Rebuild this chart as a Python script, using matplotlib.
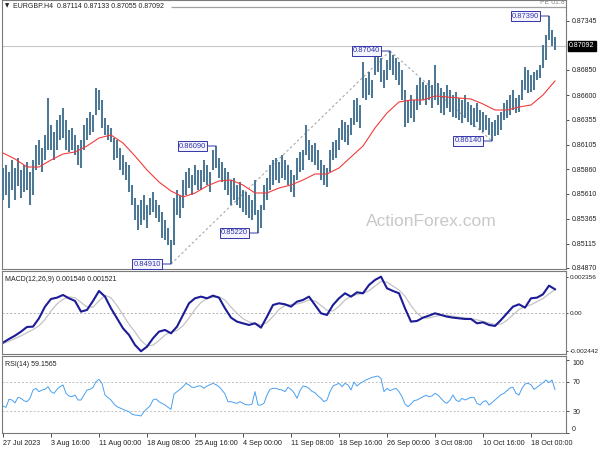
import numpy as np
import matplotlib
matplotlib.use("Agg")
import matplotlib.pyplot as plt

plt.rcParams['font.family'] = ['Liberation Sans', 'DejaVu Sans']

# ---------------- data ----------------
title_main = "EURGBP.H4  0.87114 0.87133 0.87055 0.87092"
title_macd = "MACD(12,26,9) 0.001546 0.001521"
title_rsi = "RSI(14) 59.1565"
last_price = 0.87092
fe_level = 0.87477
fe_label = "FE 61.8"
watermark = "ActionForex.com"

bar_high = [
    .8587, .8590, .8583, .8595, .8587, .8597, .8585, .8590, .8593, .8583,
    .8595, .8610, .8615, .8607, .8620, .8657, .8630, .8623, .8635, .8640,
    .8647, .8635, .8625, .8627, .8620, .8610, .8615, .8630, .8637, .8643,
    .8640, .8667, .8665, .8655, .8637, .8630, .8627, .8617, .8615, .8607,
    .8600, .8593, .8590, .8570, .8557, .8550, .8555, .8560, .8550, .8557,
    .8563, .8555, .8550, .8543, .8535, .8527, .8515, .8557, .8565, .8560,
    .8575, .8583, .8587, .8580, .8590, .8585, .8585, .8595, .8590, .8583,
    .8605, .8609, .8597, .8593, .8587, .8583, .8575, .8577, .8570, .8573,
    .8565, .8563, .8560, .8555, .8575, .8545, .8550, .8570, .8577, .8590,
    .8595, .8597, .8593, .8600, .8595, .8590, .8585, .8580, .8597, .8603,
    .8605, .8630, .8615, .8610, .8612, .8605, .8595, .8590, .8587, .8605,
    .8613, .8615, .8627, .8635, .8633, .8630, .8637, .8655, .8657, .8650,
    .8693, .8677, .8683, .8675, .8699, .8702, .8697, .8685, .8695, .8704,
    .8700, .8697, .8693, .8685, .8665, .8655, .8660, .8655, .8670, .8677,
    .8673, .8670, .8675, .8670, .8690, .8672, .8667, .8663, .8670, .8665,
    .8660, .8663, .8657, .8655, .8660, .8653, .8650, .8647, .8652, .8645,
    .8643, .8640, .8637, .8633, .8635, .8640, .8643, .8652, .8655, .8660,
    .8665, .8657, .8660, .8675, .8688, .8685, .8680, .8683, .8685, .8690,
    .8710, .8720, .8739, .8725, .8718]

bar_low = [
    .8555, .8560, .8547, .8565, .8555, .8569, .8557, .8563, .8565, .8550,
    .8560, .8585, .8590, .8583, .8595, .8605, .8605, .8595, .8605, .8615,
    .8617, .8605, .8603, .8605, .8600, .8590, .8587, .8605, .8615, .8620,
    .8623, .8640, .8645, .8627, .8620, .8615, .8613, .8595, .8597, .8585,
    .8580, .8575, .8563, .8550, .8535, .8525, .8530, .8535, .8527, .8540,
    .8543, .8537, .8533, .8517, .8515, .8510, .8491, .8510, .8540, .8537,
    .8547, .8560, .8567, .8560, .8570, .8565, .8565, .8573, .8570, .8563,
    .8585, .8587, .8577, .8573, .8565, .8560, .8550, .8555, .8550, .8547,
    .8543, .8540, .8537, .8535, .8540, .8522, .8527, .8545, .8555, .8565,
    .8570, .8575, .8572, .8577, .8575, .8570, .8563, .8558, .8575, .8583,
    .8585, .8600, .8595, .8593, .8590, .8585, .8575, .8570, .8568, .8583,
    .8595, .8597, .8605, .8615, .8613, .8610, .8620, .8630, .8633, .8627,
    .8657, .8655, .8660, .8657, .8680, .8683, .8673, .8667, .8675, .8685,
    .8680, .8675, .8670, .8655, .8628, .8632, .8637, .8633, .8645, .8650,
    .8655, .8650, .8655, .8647, .8655, .8650, .8642, .8640, .8647, .8643,
    .8638, .8637, .8635, .8632, .8637, .8633, .8630, .8628, .8633, .8625,
    .8623, .8625, .8620, .8614, .8619, .8620, .8625, .8635, .8637, .8640,
    .8645, .8642, .8643, .8655, .8665, .8662, .8663, .8665, .8675, .8677,
    .8687, .8695, .8715, .8709, .8705]

# moving average, one value every 4 bars
ma_values = [
    .8602, .8596, .8588, .8588, .8595, .8601, .8603, .8609, .8617, .8620,
    .8612, .8599, .8585, .8573, .8564, .8558, .8562, .8569, .8574, .8575,
    .8570, .8562, .8562, .8567, .8570, .8575, .8581, .8581, .8587, .8598,
    .8609, .8627, .8642, .8653, .8655, .8655, .8659, .8658, .8657, .8656,
    .8651, .8645, .8645, .8648, .8650, .8660, .8674]

# MACD main and signal, one value every 2 bars
macd_main = [
    -0.001888, -0.001652, -0.001437, -0.001180, -0.000879, -0.000858, -0.000322,
    0.000429, 0.000922, 0.001008, 0.001180, 0.000965, 0.000794, 0.000107,
    0.000215, 0.000794, 0.001437, 0.001073, 0.000322, -0.000322, -0.000965,
    -0.001394, -0.002038, -0.002442, -0.002145, -0.001609, -0.001180, -0.001073,
    -0.001287, -0.000858, -0.000107, 0.000644, 0.000965, 0.001073, 0.000965,
    0.001137, 0.001008, 0.000322, -0.000279, -0.000536, -0.000644, -0.000751,
    -0.000644, -0.000922, -0.000215, 0.000536, 0.000644, 0.000579, 0.000429,
    0.000751, 0.000858, 0.001073, 0.000536, 0.000000, -0.000107, 0.000536,
    0.000965, 0.001287, 0.001073, 0.001351, 0.001287, 0.001823, 0.002145,
    0.002356, 0.001609, 0.001437, 0.001287, 0.000322, -0.000536, -0.000493,
    -0.000279, -0.000150, 0.000000, -0.000107, -0.000215, -0.000279, -0.000322,
    -0.000365, -0.000365, -0.000644, -0.000579, -0.000751, -0.000815, -0.000429,
    0.000000, 0.000429, 0.000579, 0.000365, 0.000965, 0.001008, 0.001223,
    0.001780, 0.001546]

macd_signal = [
    -0.001950, -0.001800, -0.001620, -0.001450, -0.001250, -0.001050, -0.000800,
    -0.000400, 0.000150, 0.000600, 0.000900, 0.001050, 0.001000, 0.000700,
    0.000400, 0.000400, 0.000800, 0.001150, 0.001000, 0.000500, -0.000100,
    -0.000700, -0.001200, -0.001750, -0.002100, -0.002050, -0.001750, -0.001400,
    -0.001200, -0.001100, -0.000800, -0.000300, 0.000250, 0.000700, 0.000950,
    0.001030, 0.001050, 0.000850, 0.000400, 0.000000, -0.000350, -0.000550,
    -0.000650, -0.000750, -0.000600, -0.000200, 0.000250, 0.000500, 0.000560,
    0.000600, 0.000700, 0.000850, 0.000800, 0.000500, 0.000200, 0.000150,
    0.000450, 0.000850, 0.001100, 0.001200, 0.001280, 0.001450, 0.001750,
    0.002050, 0.002000, 0.001750, 0.001500, 0.001100, 0.000500, 0.000000,
    -0.000300, -0.000300, -0.000200, -0.000130, -0.000120, -0.000180, -0.000250,
    -0.000300, -0.000340, -0.000420, -0.000520, -0.000620, -0.000720, -0.000700,
    -0.000450, -0.000100, 0.000250, 0.000420, 0.000550, 0.000750, 0.000950,
    0.001250, 0.001521]

# RSI, one value per bar
rsi_values = [
    36.8, 35.0, 46.0, 45.0, 41.0, 48.6, 47.3, 44.0, 42.7, 47.3,
    58.6, 60.9, 56.4, 58.6, 59.5, 63.2, 56.4, 54.1, 59.5, 63.2,
    65.5, 54.1, 50.5, 49.5, 51.8, 45.0, 45.0, 51.8, 58.6, 59.5,
    62.3, 70.0, 73.2, 67.7, 51.8, 48.2, 45.0, 39.5, 35.9, 34.1,
    32.3, 30.5, 29.1, 25.5, 24.5, 24.1, 23.2, 29.1, 33.2, 36.8,
    45.0, 46.4, 42.7, 40.5, 38.2, 35.0, 32.3, 53.2, 56.4, 59.5,
    63.2, 67.7, 65.5, 62.3, 62.3, 64.1, 64.1, 60.9, 64.1, 65.9,
    67.7, 65.9, 63.2, 58.6, 53.2, 42.7, 42.7, 41.4, 40.5, 42.7,
    40.5, 38.6, 38.2, 39.5, 56.4, 38.2, 38.2, 40.5, 51.8, 59.5,
    60.9, 60.9, 59.5, 58.6, 56.4, 62.3, 59.5, 55.0, 47.3, 57.7,
    64.1, 63.2, 60.9, 56.8, 55.0, 50.5, 47.3, 42.7, 45.0, 56.4,
    64.1, 65.9, 67.7, 63.2, 67.7, 65.5, 58.6, 69.5, 64.1, 67.7,
    70.0, 72.3, 74.1, 75.9, 76.8, 77.7, 74.5, 56.4, 60.9, 57.7,
    59.5, 60.9, 56.4, 49.5, 39.5, 35.9, 39.5, 44.1, 45.0, 47.3,
    49.5, 51.4, 49.5, 50.5, 54.1, 51.8, 47.3, 42.7, 40.5, 45.0,
    51.8, 45.0, 42.7, 47.3, 45.0, 46.8, 48.6, 48.6, 40.5, 38.2,
    42.7, 44.1, 38.2, 41.4, 45.0, 48.6, 52.3, 54.1, 57.7, 61.4,
    62.3, 54.1, 51.8, 60.9, 66.8, 67.7, 65.9, 59.5, 62.3, 65.5,
    68.6, 72.3, 68.6, 72.3, 59.16]

# swing points marked with price boxes (bar index, 'high'/'low')
swing_points = [(56, 'low'), (71, 'high'), (85, 'low'), (129, 'high'),
                (163, 'low'), (182, 'high')]
# dotted trend lines between swing points
trend_pairs = [(0, 3), (3, 4)]

price_ticks = [0.87345, 0.86850, 0.86600, 0.86355, 0.86105,
               0.85860, 0.85610, 0.85365, 0.85115, 0.84870]
macd_ticks = [0.002356, 0.0, -0.002442]
macd_tick_labels = ["0.002356", "0.00", "-0.002442"]
rsi_ticks = [100, 70, 30, 0]

date_labels = ["27 Jul 2023", "3 Aug 16:00", "11 Aug 00:00", "18 Aug 08:00",
               "25 Aug 16:00", "4 Sep 00:00", "11 Sep 08:00", "18 Sep 16:00",
               "26 Sep 00:00", "3 Oct 08:00", "10 Oct 16:00", "18 Oct 00:00"]
bars_per_label = 16

# ---------------- layout ----------------
W, H = 600, 450
fig = plt.figure(figsize=(6, 4.5), dpi=100)
fig.patch.set_facecolor('white')

BAR_C = '#4d7896'
EDGE_C = '#7a7a7a'
LBL_C = '#3434a8'
FS = 5.0


def pax(x0, y0, x1, y1, fs=FS, pad=2, tl=2.5):
    ax = fig.add_axes([x0 / W, 1 - y1 / H, (x1 - x0) / W, (y1 - y0) / H])
    for s in ax.spines.values():
        s.set_color(EDGE_C)
        s.set_linewidth(0.8)
    ax.yaxis.set_ticks_position('right')
    ax.tick_params(axis='y', length=tl, width=0.6, color='#303030',
                   pad=pad, labelsize=fs, labelcolor='#202020')
    ax.set_xticks([])
    ax.set_xlim(-1 / 3, 187.67)
    return ax


n = len(bar_high)
xb = np.arange(n)

# ---- main price panel ----
ax = pax(2, 0, 566, 269)
ax.set_ylim(0.8486, 0.8755)
ax.axhline(last_price, color='#c8c8c8', lw=0.8, zorder=1)
ax.vlines(xb, bar_low, bar_high, color=BAR_C, lw=1.45, zorder=3)
xm = np.arange(len(ma_values)) * 4
ax.plot(xm, ma_values, color='#f03c3c', lw=0.8, zorder=4)

swing_vals = [bar_low[i] if k == 'low' else bar_high[i] for i, k in swing_points]
for a, b in trend_pairs:
    ax.plot([swing_points[a][0], swing_points[b][0]], [swing_vals[a], swing_vals[b]],
            ls=(0, (2.2, 2.2)), color='#a8a8a8', lw=0.8, zorder=2)
ax.hlines(fe_level, swing_points[0][0], 187.67, color='#a0a0a0', lw=0.9, zorder=2)
ax.annotate(fe_label, xy=(1, fe_level), xycoords=('axes fraction', 'data'),
            xytext=(-1, 1), textcoords='offset pixels', ha='right', va='bottom',
            fontsize=FS, color='#909090')

for (i, k), v in zip(swing_points, swing_vals):
    ax.annotate(f"{v:.5f}", xy=(i, v), xytext=(-10, 0), textcoords='offset pixels',
                ha='right', va='center', fontsize=5.4, color=LBL_C, zorder=6,
                bbox=dict(boxstyle='square,pad=0.15', fc='#f4f4ff', ec=LBL_C, lw=0.7),
                arrowprops=dict(arrowstyle='-', color=LBL_C, lw=0.7,
                                shrinkA=0, shrinkB=0))

ax.text(0.762, 0.175, watermark, transform=ax.transAxes, ha='center', va='center',
        fontsize=12.5, color='#c8c8c8', zorder=0)
ax.annotate("\u25bc", xy=(0, 1), xycoords='axes fraction', xytext=(3, -3),
            textcoords='offset pixels', ha='left', va='top', fontsize=4,
            color='#202020', family=['DejaVu Sans'])
ax.annotate(title_main, xy=(0, 1), xycoords='axes fraction', xytext=(11, -3),
            textcoords='offset pixels', ha='left', va='top', fontsize=FS,
            color='#202020')
ax.set_yticks(price_ticks)
ax.set_yticklabels([f"{t:.5f}" for t in price_ticks])
ax.annotate(f"{last_price:.5f}", xy=(1, last_price), xycoords=('axes fraction', 'data'),
            xytext=(3, 0), textcoords='offset pixels', ha='left', va='center',
            fontsize=FS, color='white',
            bbox=dict(boxstyle='square,pad=0.2', fc='black', ec='black'))

# ---- MACD panel ----
ax2 = pax(2, 271, 566, 354, fs=4.6, pad=1, tl=1.5)
ax2.set_ylim(-0.002619, 0.002722)
ax2.axhline(0, color='#b0b0b0', lw=0.7, ls=(0, (2, 2)))
xs = np.arange(len(macd_signal)) * 2
ax2.plot(xs, macd_signal, color='#c4c4c4', lw=0.9)
xmm = np.arange(len(macd_main)) * 2
ax2.plot(xmm, macd_main, color='#1c1c96', lw=1.5)
ax2.set_yticks(macd_ticks)
ax2.set_yticklabels(macd_tick_labels)
ax2.annotate(title_macd, xy=(0, 1), xycoords='axes fraction', xytext=(3, -5),
             textcoords='offset pixels', ha='left', va='top', fontsize=FS,
             color='#202020')

# ---- RSI panel ----
ax3 = pax(2, 356, 566, 433)
ax3.set_ylim(0, 105)
for lv in (70, 30):
    ax3.axhline(lv, color='#c0c0c0', lw=0.7, ls=(0, (2, 2)))
ax3.plot(np.arange(len(rsi_values)), rsi_values, color='#4aa0f0', lw=0.7)
ax3.set_yticks(rsi_ticks)
ax3.set_yticklabels([str(t) for t in rsi_ticks])
labs = ax3.get_yticklabels()
labs[0].set_va('top')
labs[-1].set_va('bottom')
ax3.annotate(title_rsi, xy=(0, 1), xycoords='axes fraction', xytext=(3, -5),
             textcoords='offset pixels', ha='left', va='top', fontsize=FS,
             color='#202020')
ax3.set_xticks(np.arange(len(date_labels)) * bars_per_label)
ax3.set_xticklabels(date_labels, ha='left')
ax3.tick_params(axis='x', length=3, width=0.6, color='#303030', pad=2,
                labelsize=5.2, labelcolor='#202020')

fig.savefig("out.png", dpi=100)
